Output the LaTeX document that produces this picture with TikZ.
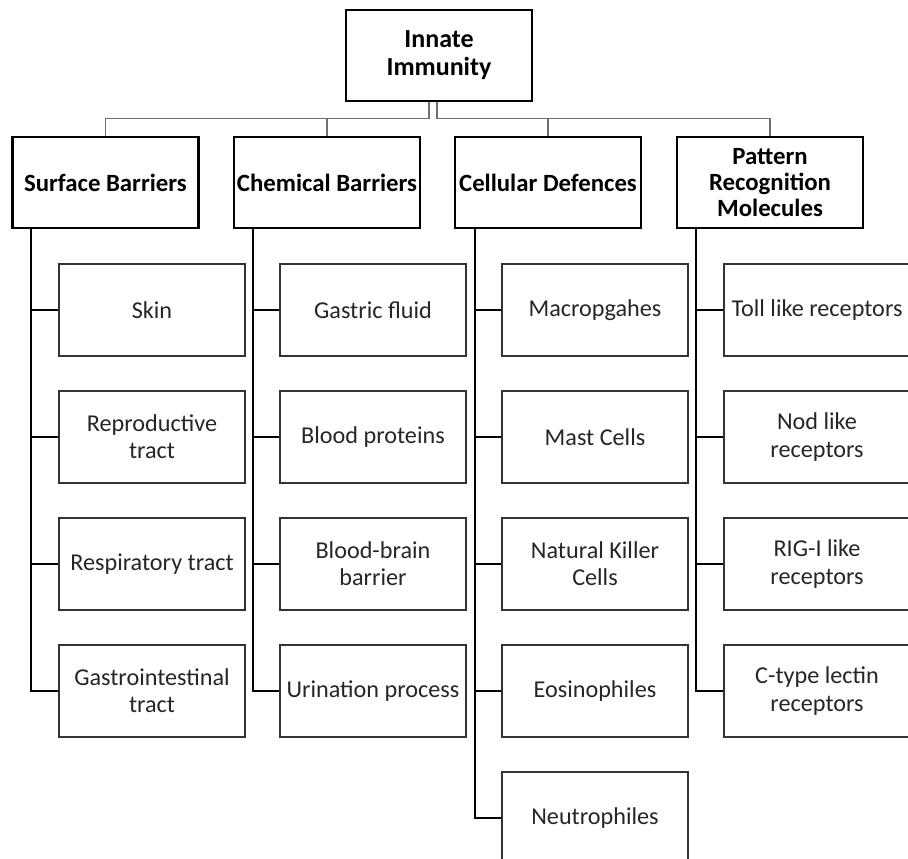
\documentclass[tikz,border=0pt]{standalone}
\usepackage{fontspec}
\setmainfont{Carlito}
\usetikzlibrary{calc}
\definecolor{linkgray}{HTML}{707070}
\definecolor{boxdark}{HTML}{333333}
\definecolor{textdark}{HTML}{262626}

\begin{document}
\begin{tikzpicture}[
  x=0.5pt,y=-0.5pt,line join=miter,
  font=\fontsize{12.1}{13.6}\selectfont,
  headbox/.style={draw=black,line width=1.4pt,fill=white,inner sep=0pt,
    minimum width=93pt,minimum height=45.5pt,align=center,font=\fontsize{12.4}{13}\selectfont\bfseries},
  leafbox/.style={draw=boxdark,line width=0.8pt,fill=white,inner sep=0pt,
    minimum width=93pt,minimum height=46pt,align=center,text=textdark},
  link/.style={linkgray,line width=0.8pt},
  trunk/.style={black,line width=1pt}
]
  \useasboundingbox (0,0) rectangle (908,858);
  \fill[white] (0,0) rectangle (908,858);

  % Root and the four branches.
  \node[headbox,font=\fontsize{13}{14}\selectfont\bfseries] (root) at (439,55.5) {Innate\\Immunity};
  \node[headbox] (surface)  at (105.5,182.5) {Surface Barriers};
  \node[headbox] (chemical) at (327,182.5)   {Chemical Barriers};
  \node[headbox] (cellular) at (548,182.5)   {Cellular Defences};
  \node[headbox] (pattern)  at (770,182.5)   {Pattern\\Recognition\\Molecules};

  % Elbow links from the root.
  \coordinate (rl) at ($(root.south)+(-10,0)$);
  \coordinate (rr) at ($(root.south)+(-2,0)$);
  \foreach \b in {surface,chemical} {
    \draw[link] (rl) -- ++(0,16) -| (\b.north);
  }
  \foreach \b in {cellular,pattern} {
    \draw[link] (rr) -- ++(0,16) -| (\b.north);
  }

  % Leaves of each branch.
  \foreach \txt [count=\i] in {Skin, Reproductive\\tract, Respiratory tract, Gastrointestinal\\tract} {
    \draw[trunk] ($(surface.south west)+(20,0)$) |- (152,{183+127*\i});
    \node[leafbox] (s\i) at (152,{183+127*\i}) {\txt};
  }
  \foreach \txt [count=\i] in {Gastric fluid, Blood proteins, Blood-brain\\barrier, Urination process} {
    \draw[trunk] ($(chemical.south west)+(20,0)$) |- (373,{183+127*\i});
    \node[leafbox] (c\i) at (373,{183+127*\i}) {\txt};
  }
  \foreach \txt [count=\i] in {Macropgahes, Mast Cells, Natural Killer\\Cells, Eosinophiles, Neutrophiles} {
    \draw[trunk] ($(cellular.south west)+(21,0)$) |- (595,{183+127*\i});
    \node[leafbox] (d\i) at (595,{183+127*\i}) {\txt};
  }
  \foreach \txt [count=\i] in {Toll like receptors, Nod like\\receptors, RIG-I like\\receptors, C-type lectin\\receptors} {
    \draw[trunk] ($(pattern.south west)+(20,0)$) |- (817,{183+127*\i});
    \node[leafbox] (p\i) at (817,{183+127*\i}) {\txt};
  }
\end{tikzpicture}
\end{document}
